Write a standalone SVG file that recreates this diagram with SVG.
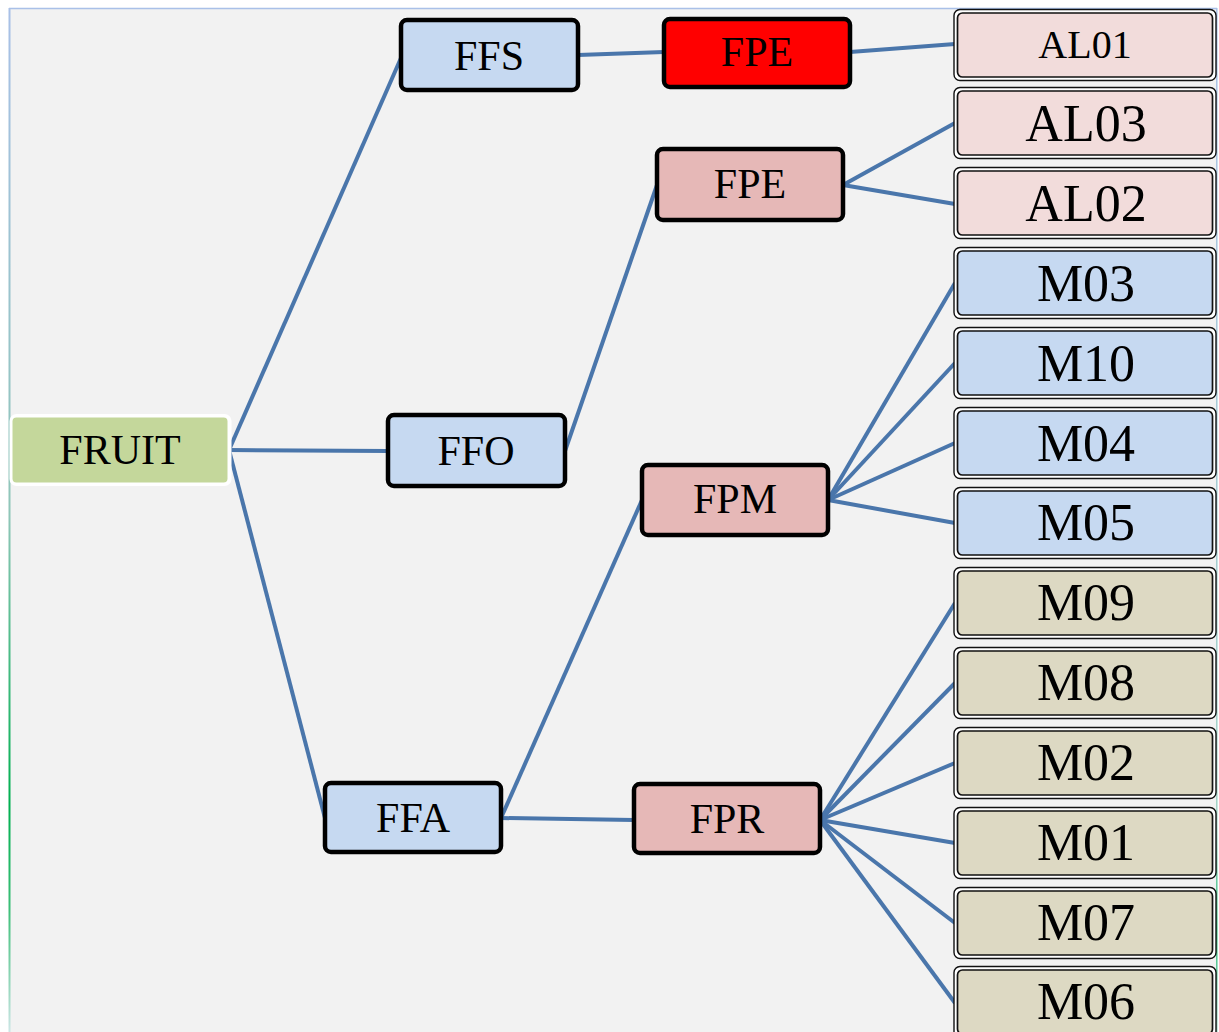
<svg xmlns="http://www.w3.org/2000/svg" width="1219" height="1032" viewBox="0 0 1219 1032">
  <defs>
    <linearGradient id="leftEdge" x1="0" y1="0" x2="0" y2="1032" gradientUnits="userSpaceOnUse">
      <stop offset="0" stop-color="#a9c0e8"/>
      <stop offset="0.5" stop-color="#8fc6b8"/>
      <stop offset="0.78" stop-color="#00b050"/>
      <stop offset="0.88" stop-color="#3cbf78"/>
      <stop offset="1" stop-color="#cde6e6"/>
    </linearGradient>
    <linearGradient id="rightEdge" x1="0" y1="0" x2="0" y2="1032" gradientUnits="userSpaceOnUse">
      <stop offset="0" stop-color="#a9c0e8"/>
      <stop offset="0.8" stop-color="#9fd2c4"/>
      <stop offset="0.9" stop-color="#2fbf7a"/>
      <stop offset="1" stop-color="#9fd2c4"/>
    </linearGradient>
  </defs>
  <style>
    text { font-family: "Liberation Serif", "Times New Roman", serif; fill: #000; text-anchor: middle; }
    .mid { font-size: 42px; }
    .leaf { font-size: 52px; }
    .small { font-size: 40px; }
    .node { stroke: #000; stroke-width: 4.5; }
    .blue { fill: #c6d9f1; }
    .pink { fill: #e6b8b7; }
    .red { fill: #ff0000; }
    .leafOuter { fill: #ffffff; stroke: #111; stroke-width: 1.4; }
    .leafInner { stroke: #111; stroke-width: 1.7; }
    .al { fill: #f2dcdb; }
    .mb { fill: #c6d9f1; }
    .tan { fill: #ddd9c3; }
    .links line { stroke: #4a76ab; stroke-width: 4; stroke-linecap: butt; }
  </style>

  <!-- page background and frame -->
  <rect x="0" y="0" width="1219" height="1032" fill="#ffffff"/>
  <rect x="9.5" y="8.5" width="1207" height="1030" fill="#f2f2f2"/>
  <line x1="9" y1="8.5" x2="1217" y2="8.5" stroke="#a9c0e8" stroke-width="1.5"/>
  <line x1="9.5" y1="8" x2="9.5" y2="1032" stroke="url(#leftEdge)" stroke-width="2"/>
  <line x1="1216.8" y1="8" x2="1216.8" y2="1032" stroke="url(#rightEdge)" stroke-width="1.5"/>

  <!-- connectors -->
  <g id="connectors" class="links">
    <line x1="229" y1="450" x2="401" y2="58"/>
    <line x1="229" y1="450" x2="388" y2="451"/>
    <line x1="229" y1="450" x2="325" y2="818"/>
    <line x1="578" y1="55" x2="664" y2="52"/>
    <line x1="850" y1="52" x2="955" y2="44"/>
    <line x1="565" y1="451" x2="657" y2="185"/>
    <line x1="843" y1="185" x2="955" y2="123"/>
    <line x1="843" y1="185" x2="955" y2="204"/>
    <line x1="501" y1="818" x2="642" y2="500"/>
    <line x1="501" y1="818" x2="634" y2="820"/>
    <line x1="828" y1="500" x2="955" y2="283"/>
    <line x1="828" y1="500" x2="955" y2="363"/>
    <line x1="828" y1="500" x2="955" y2="443"/>
    <line x1="828" y1="500" x2="955" y2="523"/>
    <line x1="820" y1="820" x2="955" y2="603"/>
    <line x1="820" y1="820" x2="955" y2="683"/>
    <line x1="820" y1="820" x2="955" y2="763"/>
    <line x1="820" y1="820" x2="955" y2="843"/>
    <line x1="820" y1="820" x2="955" y2="923"/>
    <line x1="820" y1="820" x2="955" y2="1003"/>
  </g>

  <!-- root -->
  <g id="fruit">
    <rect x="9.5" y="414" width="222" height="72" rx="7" fill="#ffffff"/>
    <rect x="12.5" y="417.5" width="215" height="65" rx="4" fill="#c4d79b"/>
    <text class="mid" x="120" y="464">FRUIT</text>
  </g>

  <!-- second level -->
  <g id="ffs">
    <rect class="node blue" x="401" y="20" width="177" height="70" rx="6"/>
    <text class="mid" x="489" y="70">FFS</text>
  </g>
  <g id="ffo">
    <rect class="node blue" x="388" y="415" width="177" height="71" rx="6"/>
    <text class="mid" x="476" y="465">FFO</text>
  </g>
  <g id="ffa">
    <rect class="node blue" x="325" y="783" width="176" height="69" rx="6"/>
    <text class="mid" x="413" y="832">FFA</text>
  </g>

  <!-- third level -->
  <g id="fpe-red">
    <rect class="node red" x="664" y="19" width="186" height="68" rx="6"/>
    <text class="mid" x="757" y="66">FPE</text>
  </g>
  <g id="fpe">
    <rect class="node pink" x="657" y="149" width="186" height="71" rx="6"/>
    <text class="mid" x="750" y="198">FPE</text>
  </g>
  <g id="fpm">
    <rect class="node pink" x="642" y="465" width="186" height="70" rx="6"/>
    <text class="mid" x="735" y="513">FPM</text>
  </g>
  <g id="fpr">
    <rect class="node pink" x="634" y="784" width="186" height="69" rx="6"/>
    <text class="mid" x="727" y="833">FPR</text>
  </g>

  <!-- leaves -->
  <g id="al01">
    <rect class="leafOuter" x="954" y="9.5" width="262" height="71" rx="6"/>
    <rect class="leafInner al" x="957.5" y="13" width="255" height="64" rx="5"/>
    <text class="small" x="1085" y="58">AL01</text>
  </g>
  <g id="al03">
    <rect class="leafOuter" x="954" y="87.5" width="262" height="71" rx="6"/>
    <rect class="leafInner al" x="957.5" y="91" width="255" height="64" rx="5"/>
    <text class="leaf" x="1086" y="141">AL03</text>
  </g>
  <g id="al02">
    <rect class="leafOuter" x="954" y="167.5" width="262" height="71" rx="6"/>
    <rect class="leafInner al" x="957.5" y="171" width="255" height="64" rx="5"/>
    <text class="leaf" x="1086" y="221">AL02</text>
  </g>
  <g id="m03">
    <rect class="leafOuter" x="954" y="247.5" width="262" height="71" rx="6"/>
    <rect class="leafInner mb" x="957.5" y="251" width="255" height="64" rx="5"/>
    <text class="leaf" x="1086" y="301">M03</text>
  </g>
  <g id="m10">
    <rect class="leafOuter" x="954" y="327.5" width="262" height="71" rx="6"/>
    <rect class="leafInner mb" x="957.5" y="331" width="255" height="64" rx="5"/>
    <text class="leaf" x="1086" y="381">M10</text>
  </g>
  <g id="m04">
    <rect class="leafOuter" x="954" y="407.5" width="262" height="71" rx="6"/>
    <rect class="leafInner mb" x="957.5" y="411" width="255" height="64" rx="5"/>
    <text class="leaf" x="1086" y="461">M04</text>
  </g>
  <g id="m05">
    <rect class="leafOuter" x="954" y="487.5" width="262" height="71" rx="6"/>
    <rect class="leafInner mb" x="957.5" y="491" width="255" height="64" rx="5"/>
    <text class="leaf" x="1086" y="540">M05</text>
  </g>
  <g id="m09">
    <rect class="leafOuter" x="954" y="567.5" width="262" height="71" rx="6"/>
    <rect class="leafInner tan" x="957.5" y="571" width="255" height="64" rx="5"/>
    <text class="leaf" x="1086" y="620">M09</text>
  </g>
  <g id="m08">
    <rect class="leafOuter" x="954" y="647.5" width="262" height="71" rx="6"/>
    <rect class="leafInner tan" x="957.5" y="651" width="255" height="64" rx="5"/>
    <text class="leaf" x="1086" y="700">M08</text>
  </g>
  <g id="m02">
    <rect class="leafOuter" x="954" y="727.5" width="262" height="71" rx="6"/>
    <rect class="leafInner tan" x="957.5" y="731" width="255" height="64" rx="5"/>
    <text class="leaf" x="1086" y="780">M02</text>
  </g>
  <g id="m01">
    <rect class="leafOuter" x="954" y="807.5" width="262" height="71" rx="6"/>
    <rect class="leafInner tan" x="957.5" y="811" width="255" height="64" rx="5"/>
    <text class="leaf" x="1086" y="860">M01</text>
  </g>
  <g id="m07">
    <rect class="leafOuter" x="954" y="887.5" width="262" height="71" rx="6"/>
    <rect class="leafInner tan" x="957.5" y="891" width="255" height="64" rx="5"/>
    <text class="leaf" x="1086" y="940">M07</text>
  </g>
  <g id="m06">
    <rect class="leafOuter" x="954" y="966.5" width="262" height="71" rx="6"/>
    <rect class="leafInner tan" x="957.5" y="970" width="255" height="64" rx="5"/>
    <text class="leaf" x="1086" y="1019">M06</text>
  </g>
</svg>
